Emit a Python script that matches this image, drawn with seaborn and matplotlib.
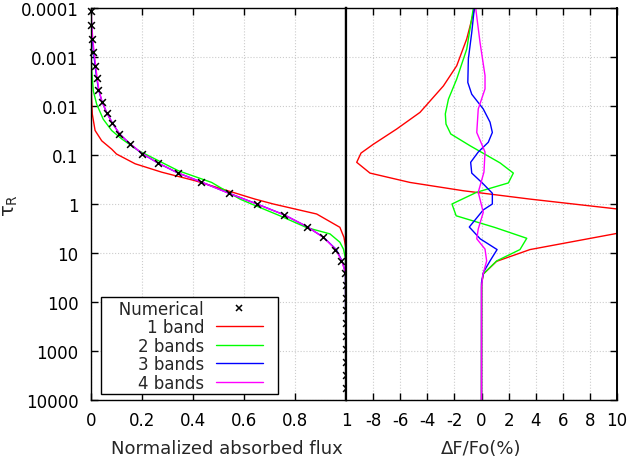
import matplotlib
matplotlib.use("Agg")
import matplotlib.pyplot as plt
import matplotlib.ticker as mticker
from matplotlib.legend_handler import HandlerLine2D
import seaborn as sns

# numerical solution (crosses)
num_tau = [1.15e-4, 2.24e-4, 4.27e-4, 7.76e-4, 1.51e-3, 2.63e-3, 4.68e-3, 8.13e-3,
           1.38e-2, 2.24e-2, 3.72e-2, 5.89e-2, 9.33e-2, 0.145, 0.229, 0.355, 0.603,
           1.0, 1.66, 2.88, 4.79, 8.51, 14.8, 25.7, 44.7, 81.3, 145, 269, 490, 912,
           1660, 3090, 5620]
num_flux = [0.000, 0.001, 0.005, 0.009, 0.016, 0.022, 0.029, 0.042, 0.061, 0.083,
            0.111, 0.153, 0.201, 0.263, 0.341, 0.433, 0.540, 0.650, 0.757, 0.846,
            0.911, 0.957, 0.980, 0.997, 1, 1, 1, 1, 1, 1, 1, 1, 1]

# band models, left panel (normalized absorbed flux)
red_tau = [1e-4, 6.6e-3, 1.45e-2, 3.16e-2, 5.13e-2, 7.59e-2, 9.55e-2, 0.151, 0.224,
           0.335, 0.794, 1.0, 1.6, 2.99, 4.79, 8.3, 1e4]
red_flux = [0.0, 0.002, 0.005, 0.016, 0.042, 0.081, 0.100, 0.173, 0.277, 0.408, 0.643,
            0.715, 0.885, 0.976, 0.992, 1.0, 1.0]

green_tau = [1e-4, 8.7e-4, 1.9e-3, 4.9e-3, 9.1e-3, 1.86e-2, 3.16e-2, 4.68e-2, 8.13e-2,
             0.209, 0.363, 0.794, 1.07, 1.74, 3.02, 4.07, 6.03, 8.32, 13.2, 1e4]
green_flux = [0.0, 0.0, 0.003, 0.009, 0.022, 0.048, 0.081, 0.120, 0.186, 0.342, 0.473,
              0.584, 0.643, 0.741, 0.845, 0.937, 0.976, 0.990, 0.998, 1.0]

band_tau = num_tau[:24] + [1e4]
blue_flux = [0.000, 0.002, 0.005, 0.010, 0.016, 0.022, 0.030, 0.043, 0.062, 0.084,
             0.112, 0.152, 0.200, 0.262, 0.338, 0.432, 0.541, 0.651, 0.757, 0.846,
             0.912, 0.962, 0.985, 0.998, 1.0]
magenta_flux = [0.001, 0.003, 0.007, 0.012, 0.018, 0.024, 0.031, 0.043, 0.062, 0.084,
                0.112, 0.153, 0.201, 0.262, 0.339, 0.432, 0.540, 0.650, 0.757, 0.847,
                0.911, 0.960, 0.984, 0.998, 1.0]

# band models, right panel (dF/Fo in %)
red_err_tau = [1e-4, 4.27e-4, 1.51e-3, 3.89e-3, 1.35e-2, 2.95e-2, 6.03e-2, 9.12e-2,
               0.141, 0.234, 0.363, 0.537, 0.794, 1.26, 1.78, 2.51, 3.98, 8.51, 14.8,
               26.9, 42.7, 1e4]
red_err = [-0.5, -1.09, -1.83, -2.81, -4.54, -6.26, -7.98, -8.89, -9.21, -8.23, -5.28,
           -1.33, 3.58, 9.98, 15.0, 14.0, 10.0, 3.58, 1.11, 0.13, 0.01, 0.0]

green_err_tau = [1e-4, 6.9e-4, 2.82e-3, 7.24e-3, 1.45e-2, 2.34e-2, 3.72e-2, 6.46e-2,
                 0.145, 0.234, 0.372, 0.575, 1.0, 1.74, 3.02, 5.01, 8.51, 14.5, 26.9,
                 42.7, 1e4]
green_err = [-0.6, -1.09, -1.83, -2.44, -2.67, -2.62, -2.27, -0.85, 1.37, 2.35, 1.98,
             -0.35, -2.18, -1.87, 1.0, 3.34, 2.84, 1.12, 0.13, 0.01, 0.0]

blue_err_tau = [1e-4, 3.16e-4, 1.1e-3, 3.31e-3, 5.75e-3, 1.15e-2, 2.14e-2, 3.47e-2,
                5.5e-2, 8.7e-2, 0.141, 0.234, 0.389, 0.603, 1.0, 1.32, 2.95, 5.13,
                8.51, 14.5, 24.5, 39.8, 1e4]
blue_err = [-0.53, -0.72, -0.97, -1.01, -0.72, 0.13, 0.63, 0.80, 0.50, -0.24, -0.80,
            -0.72, 0.13, 0.80, 0.80, 0.13, -0.90, -0.10, 1.15, 0.63, 0.15, 0.0, 0.0]

magenta_err_tau = [1e-4, 5.01e-4, 2.4e-3, 4.47e-3, 1.15e-2, 3.47e-2, 8.7e-2, 0.224,
                   0.575, 1.48, 3.24, 5.13, 8.32, 14.5, 28.8, 50, 1e4]
magenta_err = [-0.43, -0.11, 0.26, 0.26, -0.24, -0.35, 0.26, 0.18, -0.24, 0.13, -0.24,
               -0.35, 0.26, 0.38, 0.09, 0.0, 0.0]

band_labels = ['1 band', '2 bands', '3 bands', '4 bands']
band_colors = ['#ff0000', '#00ff00', '#0000ff', '#ff00ff']

ytick_vals = [1e-4, 1e-3, 1e-2, 1e-1, 1, 10, 100, 1000, 1e4]
ytick_labels = ['0.0001', '0.001', '0.01', '0.1', '1', '10', '100', '1000', '10000']
x1_ticks = [0, 0.2, 0.4, 0.6, 0.8, 1]
x1_labels = ['0', '0.2', '0.4', '0.6', '0.8', '1']
x2_ticks = [-8, -6, -4, -2, 0, 2, 4, 6, 8, 10]
x2_labels = ['-8', '-6', '-4', '-2', '0', '2', '4', '6', '8', '10']


# legend sample shorter than its box, leaves a gap on the right like gnuplot
class GapLine(HandlerLine2D):
    def create_artists(self, legend, orig_handle, xdescent, ydescent, width,
                       height, fontsize, trans):
        return super().create_artists(legend, orig_handle, xdescent, ydescent,
                                      width - 9, height, fontsize, trans)


sns.set_theme(style="white")
plt.rcParams['font.family'] = ['DejaVu Sans']
plt.rcParams['mathtext.fontset'] = 'dejavusans'
plt.rcParams['font.size'] = 12

fig = plt.figure(figsize=(6.32, 4.64), dpi=100)
fig.patch.set_facecolor('white')
ax1 = fig.add_axes([91 / 632, 63 / 464, 255 / 632, 392 / 464])
ax2 = fig.add_axes([346 / 632, 63 / 464, 271 / 632, 392 / 464], sharey=ax1)

left_curves = [(red_tau, red_flux), (green_tau, green_flux),
               (band_tau, blue_flux), (band_tau, magenta_flux)]
right_curves = [(red_err_tau, red_err), (green_err_tau, green_err),
                (blue_err_tau, blue_err), (magenta_err_tau, magenta_err)]

sns.scatterplot(x=num_flux, y=num_tau, marker='x', color='black', s=24,
                linewidth=1.1, ax=ax1, clip_on=False, zorder=3, legend=False)
handles = [plt.Line2D([], [], ls='none', marker='x', color='black', ms=5, mew=1.1)]
for (t, f), col in zip(left_curves, band_colors):
    sns.lineplot(x=f, y=t, sort=False, estimator=None, color=col, lw=1.0, ax=ax1)
    handles.append(plt.Line2D([], [], color=col, lw=1.0))
for (t, e), col in zip(right_curves, band_colors):
    sns.lineplot(x=e, y=t, sort=False, estimator=None, color=col, lw=1.0, ax=ax2)

for ax in (ax1, ax2):
    ax.set_yscale('log')
    ax.grid(True, ls=':', color='#cccccc', lw=0.8)
    for s in ax.spines.values():
        s.set_color('black')
        s.set_linewidth(1.0)
    ax.tick_params(direction='in', length=5, width=1, pad=8, labelsize=12,
                   colors='black', top=True, bottom=True)

ax1.set_ylim(1e4, 1e-4)
ax1.yaxis.set_major_locator(mticker.FixedLocator(ytick_vals))
ax1.yaxis.set_major_formatter(mticker.FixedFormatter(ytick_labels))
ax1.yaxis.set_minor_locator(mticker.NullLocator())
ax1.set_xlim(0, 1)
ax1.set_xticks(x1_ticks)
ax1.set_xticklabels(x1_labels)
ax1.tick_params(axis='y', left=True, right=False, pad=9)
ax1.spines['right'].set_linewidth(1.6)

ax2.set_xlim(-10, 10)
ax2.set_xticks(x2_ticks)
ax2.set_xticklabels(x2_labels)
ax2.tick_params(axis='y', left=False, right=True, labelleft=False, labelright=False)
ax2.spines['left'].set_linewidth(1.6)
ax2.spines['right'].set_linewidth(1.4)

ax1.set_xlabel('Normalized absorbed flux', fontsize=13)
ax1.xaxis.set_label_coords((227 - 91) / 255, -(449 - 401) / 392)
ax1.xaxis.label.set_va('center')
ax2.set_xlabel('ΔF/Fo(%)', fontsize=13)
ax2.xaxis.set_label_coords(0.5, -(449 - 401) / 392)
ax2.xaxis.label.set_va('center')
ax1.set_ylabel('τ$_{\\mathrm{R}}$', fontsize=14)
ax1.yaxis.set_label_coords(-(91 - 11) / 255, 0.5)
ax1.yaxis.label.set_va('center')
ax2.set_ylabel('')

labels = ['   Numerical'] + band_labels
leg = ax1.legend(handles, labels, loc='lower left',
                 bbox_to_anchor=(0.039, 0.015), borderaxespad=0, markerfirst=False,
                 frameon=True, fancybox=False, edgecolor='black', framealpha=1,
                 fontsize=12, handlelength=3.6, handletextpad=0.7,
                 labelspacing=0.03, borderpad=0.15,
                 handler_map={plt.Line2D: GapLine()})
leg.get_frame().set_linewidth(1.0)
leg.set_zorder(5)

fig.savefig('out.png', dpi=100)
